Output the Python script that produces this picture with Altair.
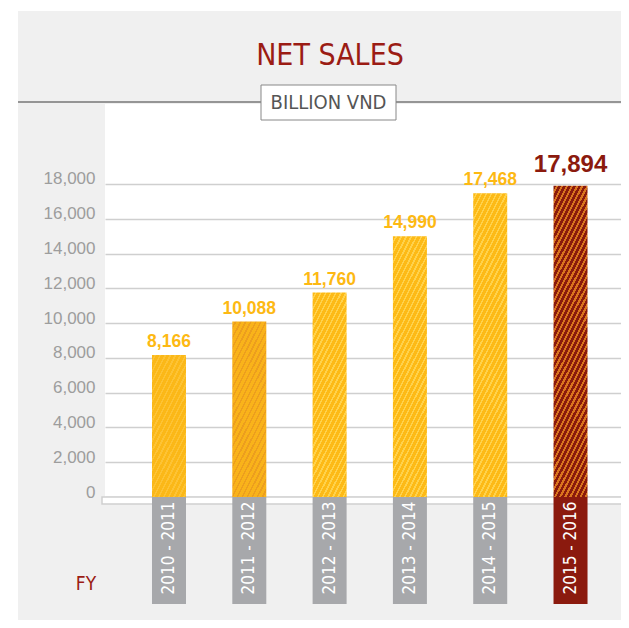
import math
import altair as alt
import pandas as pd

# ---------------- data ----------------
years = ["2010 - 2011", "2011 - 2012", "2012 - 2013", "2013 - 2014", "2014 - 2015", "2015 - 2016"]
net_sales = [8166, 10088, 11760, 14990, 17468, 17894]
highlight = [False, False, False, False, False, True]
y_ticks = [0, 2000, 4000, 6000, 8000, 10000, 12000, 14000, 16000, 18000]
title_text = "NET SALES"
unit_text = "BILLION VND"
fy_text = "FY"

# ---------------- style ----------------
bar_base = ["#FBB818", "#F9B31A", "#FDBA16", "#FDBA16", "#FDBA16", "#8A1A0C"]
bar_line = ["#FDC335", "#EC9E1E", "#FFD24C", "#FFD24C", "#FFD24C", "#D9741E"]
box_colors = ["#A7A8AB", "#A7A8AB", "#A7A8AB", "#A7A8AB", "#A7A8AB", "#8B1A0E"]
YELLOW = "#FDB913"
DARKRED = "#8B1A0E"
GRAY_BG = "#F0F0F0"
NARROW = "Liberation Sans Narrow, DejaVu Sans Condensed, sans-serif"
SANS = "Liberation Sans, Arial, sans-serif"

W, H = 516, 393
YMAX = 22600
P_IN, P_OUT, ALIGN = 0.5766, 0.501, 0.584

df = pd.DataFrame({"fy": years, "v": net_sales, "hi": highlight})
one = pd.DataFrame({"k": [0]})

x_scale = alt.Scale(domain=years, paddingInner=P_IN, paddingOuter=P_OUT, align=ALIGN)
X = alt.X("fy:N", scale=x_scale, axis=None)
Y = alt.Y(
    "v:Q",
    scale=alt.Scale(domain=[0, YMAX], nice=False),
    axis=alt.Axis(
        values=y_ticks, labelExpr="format(datum.value, ',')", grid=True,
        gridColor="#CFCFCF", gridWidth=1.5,
        domain=False, ticks=False, labelColor="#9D9D9D", labelFontSize=17,
        labelFont=SANS, labelPadding=10, labelBaseline="alphabetic", title=None,
    ),
)

step = W / (6 - P_IN + 2 * P_OUT)
bw = step * (1 - P_IN)


def hatch(w, h, base, line, period=4.5, frac=0.35, ang=63):
    nx = math.sin(math.radians(ang))
    ny = math.cos(math.radians(ang))
    dmax = nx * w + ny * h
    k = dmax / (nx * nx * w * w + ny * ny * h * h)
    x2 = k * nx * w
    y2 = k * ny * h
    stops = [{"offset": 0, "color": base}]
    d = period * 0.5
    while d + frac * period < dmax:
        t0 = round(d / dmax, 5)
        t1 = round((d + frac * period) / dmax, 5)
        stops += [
            {"offset": t0, "color": base},
            {"offset": t0, "color": line},
            {"offset": t1, "color": line},
            {"offset": t1, "color": base},
        ]
        d += period
    stops.append({"offset": 1, "color": base})
    return {"gradient": "linear", "x1": 0, "y1": 0, "x2": x2, "y2": y2, "stops": stops}


layers = []

# white page margins (left / top strips)
layers.append(alt.Chart(one).mark_rect(color="white").encode(
    x=alt.value(-97), x2=alt.value(-87), y=alt.value(-96), y2=alt.value(H + 123)))
layers.append(alt.Chart(one).mark_rect(color="white").encode(
    x=alt.value(-97), x2=alt.value(W), y=alt.value(-96), y2=alt.value(-93)))

# header line
layers.append(alt.Chart(one).mark_rule(color="#777777", strokeWidth=1.5).encode(
    x=alt.value(-87), x2=alt.value(W), y=alt.value(-2)))

# baseline box
layers.append(alt.Chart(one).mark_rect(fill="white", stroke="#CFCFCF", strokeWidth=1.5).encode(
    x=alt.value(-3), x2=alt.value(W + 5), y=alt.value(H), y2=alt.value(H + 7)))

# hatched bars
for i, yr in enumerate(years):
    h = net_sales[i] * H / YMAX
    frac = 0.42 if highlight[i] else 0.33
    layers.append(
        alt.Chart(df).transform_filter(alt.datum.fy == yr)
        .mark_bar(fill=hatch(bw, h, bar_base[i], bar_line[i], frac=frac))
        .encode(x=X, y=Y)
    )

# category boxes
layers.append(alt.Chart(df).mark_bar().encode(
    x=X, y=alt.value(H), y2=alt.value(H + 107),
    color=alt.Color("fy:N", scale=alt.Scale(domain=years, range=box_colors), legend=None)))

# category labels (rotated)
layers.append(alt.Chart(df).mark_text(
    angle=270, color="white", font=NARROW, fontSize=17, align="center", baseline="middle").encode(
    x=X, y=alt.value(H + 51), text="fy:N"))

# value labels
layers.append(alt.Chart(df).transform_filter(~alt.datum.hi).mark_text(
    color=YELLOW, font=SANS, fontWeight="bold", fontSize=17.5, baseline="alphabetic", dy=-8).encode(
    x=X, y=Y, text=alt.Text("v:Q", format=",")))
layers.append(alt.Chart(df).transform_filter(alt.datum.hi).mark_text(
    color=DARKRED, font=SANS, fontWeight="bold", fontSize=24, baseline="alphabetic", dy=-14).encode(
    x=X, y=Y, text=alt.Text("v:Q", format=",")))

# title
layers.append(alt.Chart(one).mark_text(
    text=title_text, color="#9B1C14", font=NARROW, fontSize=30, align="center", baseline="alphabetic").encode(
    x=alt.value(225), y=alt.value(-39)))

# unit box + text
layers.append(alt.Chart(one).mark_rect(fill="white", stroke="#888888", strokeWidth=1).encode(
    x=alt.value(156), x2=alt.value(291), y=alt.value(-19), y2=alt.value(16)))
layers.append(alt.Chart(one).mark_text(
    text=unit_text, color="#555555", font=NARROW, fontSize=20, align="center", baseline="middle").encode(
    x=alt.value(223.5), y=alt.value(-1.5)))

# FY label
layers.append(alt.Chart(one).mark_text(
    text=fy_text, color="#9B1C14", font=NARROW, fontSize=19, align="center", baseline="alphabetic").encode(
    x=alt.value(-19), y=alt.value(486)))

chart = alt.layer(*layers).properties(
    width=W, height=H,
    autosize=alt.AutoSizeParams(type="none"),
    padding={"left": 97, "top": 96, "right": 0, "bottom": 123},
    background=GRAY_BG,
).configure_view(fill="white", stroke=None)

chart.save("out.html", embed_options={"renderer": "svg", "actions": False})
